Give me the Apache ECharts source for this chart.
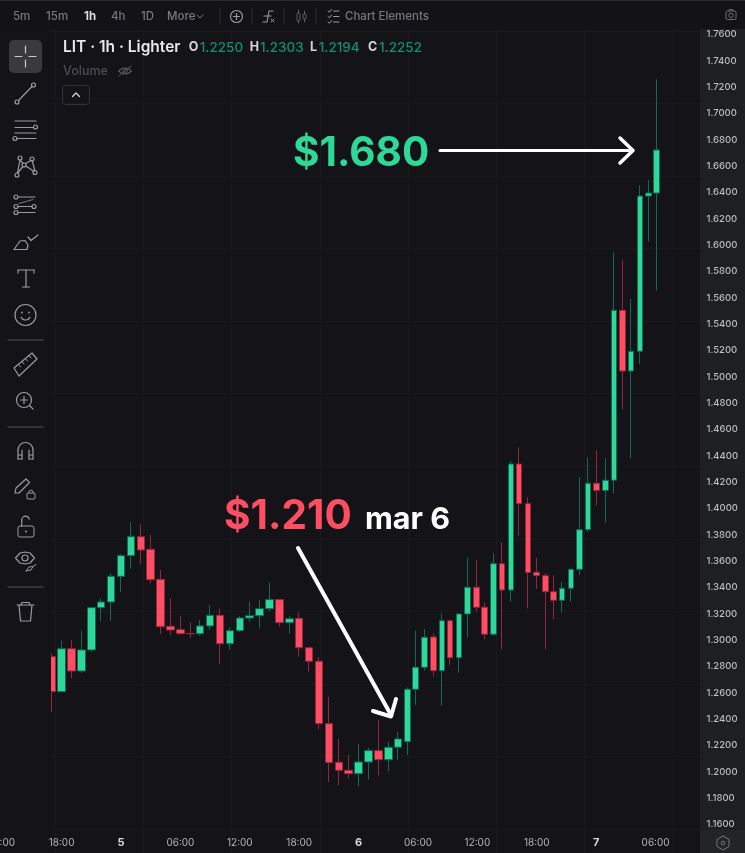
<!DOCTYPE html>
<html>
<head>
<meta charset="utf-8">
<title>LIT 1h</title>
<style>html,body{margin:0;padding:0;background:#131318}#chart{width:745px;height:853px}</style>
<script src="https://cdn.jsdelivr.net/npm/echarts@6/dist/echarts.min.js"></script>
</head>
<body>
<div id="chart"></div>
<script>
// Hourly LIT candles. Times are hours from 00:00 on the 5th.
var earlyHours = [-7,-6,-5,-4,-3,-2,-1,0,1,2,3,4,5,6,7,8,9,10,11,12,13,14,15,16,17,18,19,20,21,22,23,24,25,26,27,28];
var earlyOpen  = [1.2875,1.2609,1.2935,1.2766,1.2926,1.3247,1.3290,1.3485,1.3642,1.3786,1.3690,1.3462,1.3105,1.3080,1.3050,1.3049,1.3108,1.3189,1.2973,1.3072,1.3168,1.3186,1.3239,1.3308,1.3133,1.3166,1.2943,1.2840,1.2366,1.2073,1.2012,1.1986,1.2075,1.2161,1.2092,1.2187];
var earlyClose = [1.2609,1.2935,1.2766,1.2926,1.3247,1.3290,1.3485,1.3642,1.3786,1.3685,1.3459,1.3102,1.3077,1.3049,1.3048,1.3108,1.3189,1.2973,1.3072,1.3168,1.3186,1.3239,1.3308,1.3133,1.3163,1.2943,1.2840,1.2366,1.2070,1.2012,1.1986,1.2075,1.2161,1.2092,1.2187,1.2250];
var earlyLow   = [1.2455,1.2609,1.2711,1.2753,1.2913,1.3143,1.3146,1.3366,1.3543,1.3576,1.3432,1.3047,1.3039,1.3049,1.3017,1.3037,1.3077,1.2819,1.2926,1.3062,1.3140,1.3090,1.3219,1.3102,1.3047,1.2875,1.2761,1.2323,1.1923,1.1898,1.1948,1.1890,1.1943,1.1971,1.2004,1.2090];
var earlyHigh  = [1.2900,1.2996,1.3001,1.3072,1.3250,1.3318,1.3508,1.3655,1.3895,1.3882,1.3799,1.3533,1.3318,1.3184,1.3138,1.3153,1.3267,1.3239,1.3098,1.3184,1.3292,1.3305,1.3440,1.3310,1.3184,1.3209,1.2945,1.2870,1.2569,1.2250,1.2128,1.2212,1.2181,1.2394,1.2229,1.2303];

var lateHours = [28.96,29.77,30.64,31.55,32.42,33.23,34.14,35.00,35.89,36.74,37.61,38.48,39.39,40.20,41.11,41.95,42.86,43.67,44.57,45.45,46.33,47.17,48.03,48.92,49.80,50.64,51.52,52.42,53.26,54.11];
var lateOpen   = [1.2229,1.2627,1.2794,1.3024,1.2768,1.3148,1.2867,1.3199,1.3402,1.3250,1.3045,1.3581,1.3381,1.4338,1.4037,1.3516,1.3490,1.3368,1.3303,1.3394,1.3538,1.3839,1.4192,1.4137,1.4215,1.5505,1.5044,1.5194,1.6373,1.6396];
var lateClose  = [1.2627,1.2794,1.3022,1.2768,1.3148,1.2867,1.3199,1.3402,1.3250,1.3045,1.3581,1.3381,1.4338,1.4037,1.3513,1.3490,1.3368,1.3303,1.3394,1.3538,1.3839,1.4192,1.4137,1.4215,1.5505,1.5044,1.5194,1.6373,1.6396,1.6723];
var lateLow    = [1.2128,1.2508,1.2768,1.2723,1.2502,1.2812,1.2753,1.3020,1.3216,1.3009,1.3032,1.2931,1.3292,1.3794,1.3242,1.3389,1.2931,1.3159,1.3209,1.3292,1.3495,1.3824,1.4021,1.3892,1.4113,1.4754,1.4381,1.5098,1.6026,1.5654];
var lateHigh   = [1.2642,1.3072,1.3085,1.3052,1.3204,1.3150,1.3204,1.3629,1.3609,1.3288,1.3660,1.3743,1.4361,1.4465,1.4085,1.3624,1.3508,1.3493,1.3442,1.3540,1.4239,1.4389,1.4441,1.4381,1.5946,1.5887,1.5592,1.6455,1.6495,1.7260];

// Tick labels along the time axis, keyed by hour offset.
var timeTicks = {'-12':'12:00','-6':'18:00','0':'5','6':'06:00','12':'12:00','18':'18:00','24':'6','30':'06:00','36':'12:00','42':'18:00','48':'7','54':'06:00'};

var intervals = ['5m','15m','1h','4h','1D','More'];
var ohlcLabels = ['O','H','L','C'];
var ohlcValues = ['1.2250','1.2303','1.2194','1.2252'];

function rows(h,o,c,l,t){return h.map(function(x,i){return [x,o[i],c[i],l[i],t[i]];});}

var FONT = 'Inter, "Noto Sans", sans-serif';
var ICON = '#9a9aa0', DIM = '#77777e';
var BG = '#131318', PANEL = '#1e1f23', RULE = '#19191f';
var UP = '#2fd898', DOWN = '#ff4d63', UPWICK = '#0f6a58', DOWNWICK = '#93283d';

var g = [];
function rect(x,y,w,h,fill,z,r){g.push({type:'rect',silent:true,z:z,shape:{x:x,y:y,width:w,height:h,r:r||0},style:{fill:fill}});}
function frame(x,y,w,h,r,col){g.push({type:'rect',silent:true,z:6,shape:{x:x,y:y,width:w,height:h,r:r},style:{fill:'none',stroke:col,lineWidth:1}});}
function line(pts,col,lw,z){g.push({type:'polyline',silent:true,z:z||6,shape:{points:pts},style:{fill:'none',stroke:col||ICON,lineWidth:lw||1.2,lineCap:'round',lineJoin:'round'}});}
function ring(x,y,r,col,lw){g.push({type:'circle',silent:true,z:6,shape:{cx:x,cy:y,r:r},style:{fill:'none',stroke:col||ICON,lineWidth:lw||1.2}});}
function dot(x,y,r,col){g.push({type:'circle',silent:true,z:6,shape:{cx:x,cy:y,r:r},style:{fill:col||ICON}});}
function arc(x,y,r,a0,a1,col,lw){g.push({type:'arc',silent:true,z:6,shape:{cx:x,cy:y,r:r,startAngle:a0,endAngle:a1,clockwise:true},style:{fill:'none',stroke:col||ICON,lineWidth:lw||1.2,lineCap:'round'}});}
function text(x,y,s,size,weight,col,align){g.push({type:'text',silent:true,z:7,x:x,y:y,style:{text:s,fontFamily:FONT,fontSize:size,fontWeight:weight,fill:col,textAlign:align||'left',textVerticalAlign:'middle'}});}

// Panels framing the plot
rect(0,0,745,29,'#121217',5);
rect(0,0,745,1,'#2a2a2e',5);
rect(0,29,51,801,'#131318',5);
rect(700,28,45,802,PANEL,1);
rect(700,830,45,23,'#232428',5);

// Interval bar
[[13,'5m',DIM],[46,'15m',DIM],[84,'1h','#dcdcdf'],[111,'4h',DIM],[141,'1D',DIM],[167,'More',DIM]].forEach(function(t,i){
  text(t[0],16.5,intervals[i],11.5,t[2]==DIM?500:700,t[2]);
});
line([[197,15],[200,18],[203,15]],DIM,1);
[220,252,284,316].forEach(function(x){line([[x,8],[x,24]],'#2e2e33',1);});
ring(236.5,16.5,6,ICON,1.1);line([[233.5,16.5],[239.5,16.5]]);line([[236.5,13.5],[236.5,19.5]]);
line([[263,22],[267,22],[269,11],[273,11]],ICON,1.1);line([[264,16],[271,16]],ICON,1.1);line([[271,19],[274,22]],ICON,1);line([[274,19],[271,22]],ICON,1);
frame(297,13,3,8,1,'#5c5c62');frame(303,14,3,5,1,'#5c5c62');line([[298.5,10],[298.5,13]],'#5c5c62',1);line([[298.5,21],[298.5,23]],'#5c5c62',1);line([[304.5,11],[304.5,14]],'#5c5c62',1);line([[304.5,19],[304.5,22]],'#5c5c62',1);
[11,16.5,22].forEach(function(y){line([[328,y],[329.5,y+1.2],[331.5,y-1.5]],ICON,1);line([[333.5,y],[339,y]],ICON,1);});
text(345,16.5,'Chart Elements',11.5,500,DIM);
frame(726,11,10,8.5,1.5,'#6d6d73');ring(731,15.3,2.2,'#6d6d73',1);line([[728.5,11],[729.5,9.5],[732.5,9.5],[733.5,11]],'#6d6d73',1);

// Title and OHLC row
text(63,47.5,'LIT · 1h · Lighter',15.5,600,'#e8e8ea');
[[188.7,199.7],[249.7,260],[310,318.7],[368,379]].forEach(function(p,i){
  text(p[0],47.5,ohlcLabels[i],12.5,700,'#d6d6d9');
  text(p[1],47.5,ohlcValues[i],13.5,500,'#0f8f75');
});
text(63,71,'Volume',12.5,500,'#4c4c53');
arc(125,76,8,-2.45,-0.7,'#5e5e64',1.1);arc(125,66,8,0.7,2.45,'#5e5e64',1.1);ring(125,71,2.2,'#5e5e64',1);line([[119,76],[131,66]],'#5e5e64',1);
frame(62.5,85.5,27,19,3,'#33333a');line([[72.5,96.5],[76,93],[79.5,96.5]],'#d0d0d4',1.4);

// Drawing tools, top to bottom
rect(9,40,33,33,'#3a3a3e',6,5);
line([[25.5,46],[25.5,53]],'#c9c9cc',1.2);line([[25.5,60],[25.5,67]],'#c9c9cc',1.2);line([[15,56.5],[22,56.5]],'#c9c9cc',1.2);line([[29,56.5],[36,56.5]],'#c9c9cc',1.2);
ring(33.5,85,2,ICON);ring(17,102,2,ICON);line([[18.5,100.5],[32,86.5]]);
line([[15,121],[36,121]]);line([[15,127.5],[33,127.5]]);ring(35.5,127,2,ICON);line([[15,133],[36,133]]);ring(15,138.5,2,ICON);line([[17,138.5],[36,138.5]]);
ring(20,158,2,ICON);ring(32,159,2,ICON);ring(24,165,2,ICON);ring(17,175,2,ICON);ring(35,172.5,2,ICON);
line([[17.5,173],[20,160],[23,163.5]]);line([[17.5,173],[23,166.5]]);line([[25.5,163.5],[31,160.5]]);line([[26,166],[34,171.5]]);line([[32.3,161],[34.8,170.5]]);
ring(16,197,2,ICON);line([[18,197],[35,197]]);ring(16,206.5,2,ICON);line([[18,206.5],[32,206.5]]);ring(34,206.5,2,ICON);line([[19,203.5],[33,199.5]],'#77777e',1);ring(16,212.5,2,ICON);line([[18,212.5],[35,212.5]]);
line([[14,249.5],[27,249.5],[28,245],[25,240.5],[20,241],[14,249.5]]);line([[28,237],[31,240.5],[38,235]]);
line([[18,270],[34,270]]);line([[18,270],[18,273]]);line([[34,270],[34,273]]);line([[26,270],[26,287]]);line([[22.5,287],[29.5,287]]);
ring(25.5,315,10.5);dot(22,312.5,0.9);dot(29,312.5,0.9);arc(25.5,315,5,0.5,2.65);
line([[8,340],[43,340]],'#3f3f45',1.3);
line([[14,368],[32,353],[37,359],[19,376],[14,368]]);[[18.5,364.5],[22,361.5],[25.5,358.5],[29,355.5]].forEach(function(p){line([[p[0],p[1]],[p[0]+2,p[1]+2.5]],ICON,1);});
ring(24,400,7.5);line([[20.5,400],[27.5,400]]);line([[24,396.5],[24,403.5]]);line([[29.5,405.5],[33,409]]);
line([[8,427],[43,427]],'#3f3f45',1.3);
arc(25.5,450,7.5,Math.PI,0);line([[18,450],[18,459]]);line([[33,450],[33,459]]);line([[22,450],[22,459]]);line([[29,450],[29,459]]);line([[18,459],[22,459]]);line([[29,459],[33,459]]);line([[18,455],[22,455]]);line([[29,455],[33,455]]);
line([[15,493],[16,488],[26,479],[29.5,482.5],[19,493],[15,493]]);frame(27,493,8,6,1,ICON);arc(31,492.5,2.3,Math.PI,0,ICON,1);
frame(18,526,16,11,2,ICON);arc(25.5,520,3.8,Math.PI,-0.2);line([[21.7,520],[21.7,526]]);dot(26,531.5,1,ICON);
line([[15.5,558],[20,553],[25,552],[30,553],[34.5,558],[30,563],[25,564],[20,563],[15.5,558]]);ring(25,558,3);line([[26,571],[29,567],[33,566.5],[31,570],[26,571]],ICON,1);line([[33,566.5],[36,564.5]],ICON,1);
line([[8,587],[43,587]],'#3f3f45',1.3);
line([[17,605],[34,605]]);line([[21,605],[22,602.5],[29,602.5],[30,605]]);line([[19,605],[20.5,621],[30.5,621],[32,605]]);

// Hex settings button in the axis corner
line([[723,836],[729,839.5],[729,846.5],[723,850],[717,846.5],[717,839.5],[723,836]],'#777',1);ring(723,843,1.8,'#777',1);

// Price callouts
text(293,153.5,'$1.680',40.5,700,'#2fd898');
line([[440,150.5],[632,150.5]],'#ffffff',3,8);
line([[620,138],[633,150.5],[620,163]],'#ffffff',3.5,8);
text(224,516.5,'$1.210',40.5,700,'#ff4d63');
text(365,519.5,'mar 6',30.5,700,'#ffffff');
line([[298,548],[391,715]],'#ffffff',4,8);
line([[373,711],[391,716.5],[396,699]],'#ffffff',4,8);

var option = {
  animation: false,
  backgroundColor: BG,
  textStyle: {fontFamily: FONT},
  grid: [
    {left:2.2, width:712.8, top:34.5, height:790, outerBoundsMode:'none'},
    {left:0, width:700, top:31, height:798, outerBoundsMode:'none'},
    {left:55, width:617.75, top:0, height:853, outerBoundsMode:'none'}
  ],
  xAxis: [
    {type:'value', gridIndex:0, min:-12, max:60, interval:6, z:10,
      splitLine:{show:false}, axisLine:{show:false}, axisTick:{show:false},
      axisLabel:{margin:13, fontFamily:FONT, fontSize:10, color:'#b4b4b8', hideOverlap:false, showMinLabel:true, showMaxLabel:true,
        rich:{day:{fontFamily:FONT, fontSize:11, fontWeight:700, color:'#d8d8db'}},
        formatter:function(v){var s=timeTicks[String(v)]||''; return s.length===1?'{day|'+s+'}':s;}}},
    {type:'value', gridIndex:1, show:false, min:0, max:1},
    {type:'value', gridIndex:2, min:0, max:7, interval:1, axisLine:{show:false}, axisTick:{show:false}, axisLabel:{show:false},
      splitLine:{show:true, lineStyle:{color:RULE, width:1}}}
  ],
  yAxis: [
    {type:'value', gridIndex:0, position:'right', offset:-8.5, min:1.16, max:1.76, interval:0.02, z:10,
      splitLine:{show:false}, axisLine:{show:false}, axisTick:{show:false},
      axisLabel:{margin:0, fontFamily:FONT, fontSize:9.5, fontWeight:500, color:'#bdbdc1', align:'left',
        showMinLabel:true, showMaxLabel:true, formatter:function(v){return v.toFixed(4);}}},
    {type:'value', gridIndex:1, min:0, max:11, interval:1, axisLine:{show:false}, axisTick:{show:false}, axisLabel:{show:false},
      splitLine:{show:true, lineStyle:{color:RULE, width:1}}},
    {type:'value', gridIndex:2, show:false, min:0, max:1}
  ],
  graphic: {elements: g},
  series: [
    {type:'candlestick', name:'LIT', xAxisIndex:0, yAxisIndex:0, barWidth:8, clip:false,
      encode:{x:0, y:[1,2,3,4]}, data:rows(earlyHours,earlyOpen,earlyClose,earlyLow,earlyHigh),
      itemStyle:{color:UP, color0:DOWN, borderColor:UPWICK, borderColor0:DOWNWICK, borderWidth:1}},
    {type:'candlestick', name:'LIT', xAxisIndex:0, yAxisIndex:0, barWidth:6, clip:false,
      encode:{x:0, y:[1,2,3,4]}, data:rows(lateHours,lateOpen,lateClose,lateLow,lateHigh),
      itemStyle:{color:UP, color0:DOWN, borderColor:UPWICK, borderColor0:DOWNWICK, borderWidth:1}}
  ]
};
var chart = echarts.init(document.getElementById('chart'), null, {renderer:'canvas'});
chart.setOption(option);
</script>
</body>
</html>
